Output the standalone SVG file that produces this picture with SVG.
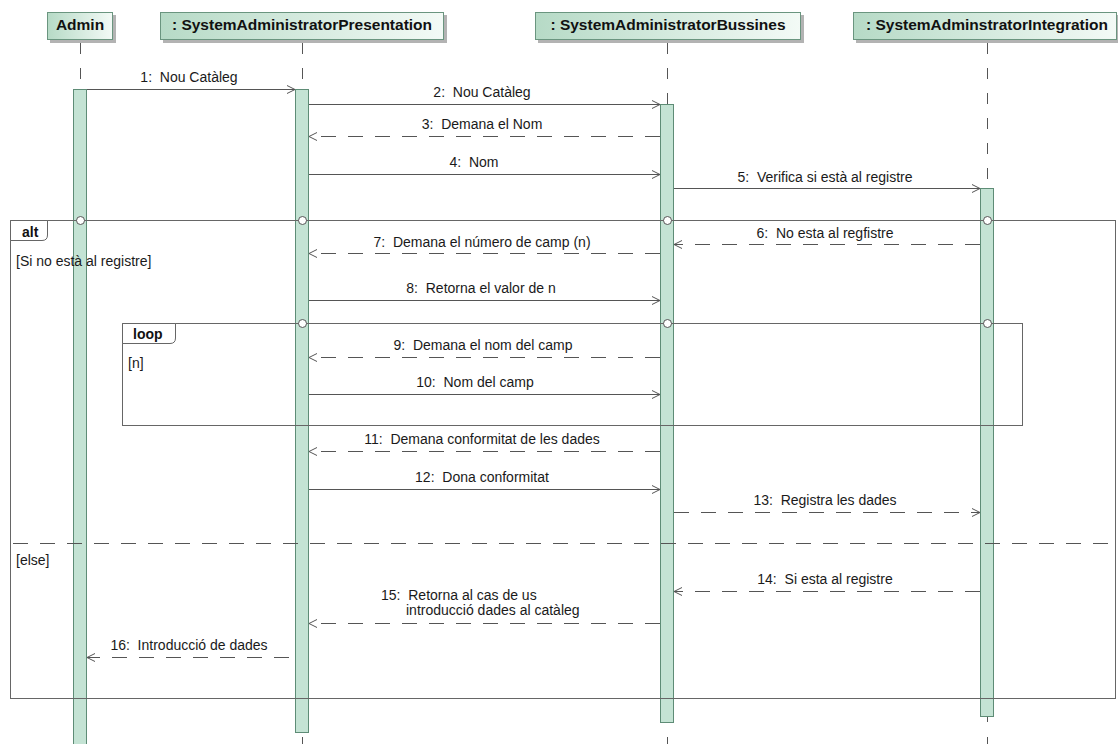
<svg xmlns="http://www.w3.org/2000/svg" width="1118" height="744" viewBox="0 0 1118 744">
  <style>
    .hdr { stroke: #6a957f; stroke-width: 1; }
    .shadow { fill: #9a9a9a; opacity: 0.75; }
    .hdr-text { font-family: "Liberation Sans", Arial, sans-serif; font-size: 15.5px; font-weight: bold; fill: #111; text-anchor: middle; }
    .life { stroke: #555; stroke-width: 1; stroke-dasharray: 11 14; fill: none; }
    .life-solid { stroke: #555; stroke-width: 1; fill: none; }
    .bar { fill: #c4e3d4; stroke: #5e8c76; stroke-width: 1; }
    .frame { fill: none; stroke: #666; stroke-width: 1; }
    .tab { fill: #fff; stroke: #666; stroke-width: 1; }
    .sep { stroke: #555; stroke-width: 1; stroke-dasharray: 15 12; fill: none; }
    .knot { fill: #fff; stroke: #555; stroke-width: 1; }
    .msg { stroke: #555; stroke-width: 1; fill: none; marker-end: url(#open); }
    .ret { stroke: #555; stroke-width: 1; fill: none; stroke-dasharray: 15 12; marker-end: url(#open); }
    .lbl { font-family: "Liberation Sans", Arial, sans-serif; font-size: 14px; fill: #1a1a1a; white-space: pre; }
    .mid { text-anchor: middle; }
    .op { font-family: "Liberation Sans", Arial, sans-serif; font-size: 14px; font-weight: bold; fill: #111; }
  </style>
  <defs>
    <linearGradient id="hdrFill" x1="0" y1="0" x2="1" y2="0">
      <stop offset="0" stop-color="#b6dac6"/>
      <stop offset="1" stop-color="#f3faf6"/>
    </linearGradient>
    <marker id="open" viewBox="-10 -6 12 12" refX="0" refY="0" markerWidth="12" markerHeight="12" markerUnits="userSpaceOnUse" orient="auto">
      <path d="M-8,-4 L0,0 L-8,4" fill="none" stroke="#555" stroke-width="1"/>
    </marker>
  </defs>

  <rect width="1118" height="744" fill="#fff"/>

  <!-- lifelines -->
  <g id="admin">
    <rect class="shadow" x="50" y="15" width="66" height="28"/>
    <rect class="hdr" x="47.5" y="12.5" width="65" height="27" fill="url(#hdrFill)"/>
    <text class="hdr-text" x="80" y="29.5">Admin</text>
    <line class="life" x1="80.5" y1="43" x2="80.5" y2="89"/>
    <rect class="bar" x="73.5" y="89.5" width="13" height="670"/>
  </g>

  <g id="presentation">
    <rect class="shadow" x="163" y="15" width="284" height="28"/>
    <rect class="hdr" x="160.5" y="12.5" width="283" height="27" fill="url(#hdrFill)"/>
    <text class="hdr-text" x="302" y="29.5">: SystemAdministratorPresentation</text>
    <line class="life" x1="302.5" y1="43" x2="302.5" y2="89"/>
    <rect class="bar" x="295.5" y="89.5" width="13" height="643"/>
    <line class="life-solid" x1="302.5" y1="737" x2="302.5" y2="744"/>
  </g>

  <g id="bussines">
    <rect class="shadow" x="538" y="15" width="266" height="28"/>
    <rect class="hdr" x="535.5" y="12.5" width="265" height="27" fill="url(#hdrFill)"/>
    <text class="hdr-text" x="668" y="29.5">: SystemAdministratorBussines</text>
    <line class="life" x1="667.5" y1="43" x2="667.5" y2="104"/>
    <rect class="bar" x="660.5" y="104.5" width="13" height="618"/>
    <line class="life-solid" x1="667.5" y1="737" x2="667.5" y2="744"/>
  </g>

  <g id="integration">
    <rect class="shadow" x="856" y="15" width="264" height="28"/>
    <rect class="hdr" x="853.5" y="12.5" width="263" height="27" fill="url(#hdrFill)"/>
    <text class="hdr-text" x="987" y="29.5">: SystemAdminstratorIntegration</text>
    <line class="life" x1="987.5" y1="43" x2="987.5" y2="188"/>
    <rect class="bar" x="980.5" y="188.5" width="13" height="528"/>
    <line class="life-solid" x1="987.5" y1="717" x2="987.5" y2="722"/>
    <line class="life-solid" x1="987.5" y1="737" x2="987.5" y2="744"/>
  </g>

  <!-- combined fragments -->
  <g id="fragments">
    <rect class="frame" x="10.5" y="220.5" width="1105" height="478"/>
    <path class="tab" d="M10.5,220.5 H47.5 V235 Q47.5,240.5 42,240.5 H10.5 Z"/>
    <text class="op" x="22" y="237">alt</text>
    <text class="lbl" x="16" y="266">[Si no està al registre]</text>
    <line class="sep" x1="13" y1="543.5" x2="1115" y2="543.5"/>
    <text class="lbl" x="16" y="565">[else]</text>

    <rect class="frame" x="122.5" y="323.5" width="900" height="102"/>
    <path class="tab" d="M122.5,323.5 H175.5 V338 Q175.5,343.5 170,343.5 H122.5 Z"/>
    <text class="op" x="133" y="339">loop</text>
    <text class="lbl" x="128" y="368">[n]</text>
  </g>

  <!-- messages -->
  <g id="connectors">
    <line class="msg" x1="87" y1="89.5" x2="295" y2="89.5"/>
    <line class="msg" x1="309" y1="104.5" x2="660" y2="104.5"/>
    <line class="ret" x1="660" y1="136.5" x2="309" y2="136.5"/>
    <line class="msg" x1="309" y1="174.5" x2="660" y2="174.5"/>
    <line class="msg" x1="674" y1="188.5" x2="980" y2="188.5"/>
    <line class="ret" x1="980" y1="244.5" x2="674" y2="244.5"/>
    <line class="ret" x1="660" y1="253.5" x2="309" y2="253.5"/>
    <line class="msg" x1="309" y1="300.5" x2="660" y2="300.5"/>
    <line class="ret" x1="660" y1="357.5" x2="309" y2="357.5"/>
    <line class="msg" x1="309" y1="394.5" x2="660" y2="394.5"/>
    <line class="ret" x1="660" y1="451.5" x2="309" y2="451.5"/>
    <line class="msg" x1="309" y1="489.5" x2="660" y2="489.5"/>
    <line class="ret" x1="674" y1="512.5" x2="980" y2="512.5"/>
    <line class="ret" x1="980" y1="591.5" x2="674" y2="591.5"/>
    <line class="ret" x1="660" y1="623.5" x2="309" y2="623.5"/>
    <line class="ret" x1="289" y1="657.5" x2="87" y2="657.5"/>
  </g>

  <!-- gates where fragments cross lifelines -->
  <g id="gates">
    <circle class="knot" cx="80.5" cy="220.5" r="4"/>
    <circle class="knot" cx="302.5" cy="220.5" r="4"/>
    <circle class="knot" cx="667.5" cy="220.5" r="4"/>
    <circle class="knot" cx="987.5" cy="220.5" r="4"/>
    <circle class="knot" cx="302.5" cy="323.5" r="4"/>
    <circle class="knot" cx="667.5" cy="323.5" r="4"/>
    <circle class="knot" cx="987.5" cy="323.5" r="4"/>
  </g>

  <!-- message labels -->
  <g id="labels">
    <text class="lbl mid" x="189" y="82">1:  Nou Catàleg</text>
    <text class="lbl mid" x="482" y="97">2:  Nou Catàleg</text>
    <text class="lbl mid" x="482" y="129">3:  Demana el Nom</text>
    <text class="lbl mid" x="474" y="167">4:  Nom</text>
    <text class="lbl mid" x="825" y="182">5:  Verifica si està al registre</text>
    <text class="lbl mid" x="825" y="238">6:  No esta al regfistre</text>
    <text class="lbl mid" x="482" y="247">7:  Demana el número de camp (n)</text>
    <text class="lbl mid" x="481" y="293">8:  Retorna el valor de n</text>
    <text class="lbl mid" x="483" y="350">9:  Demana el nom del camp</text>
    <text class="lbl mid" x="475" y="387">10:  Nom del camp</text>
    <text class="lbl mid" x="482" y="444">11:  Demana conformitat de les dades</text>
    <text class="lbl mid" x="482" y="482">12:  Dona conformitat</text>
    <text class="lbl mid" x="825" y="505">13:  Registra les dades</text>
    <text class="lbl mid" x="825" y="584">14:  Si esta al registre</text>
    <text class="lbl" x="381" y="600">15:  Retorna al cas de us</text>
    <text class="lbl" x="406" y="615">introducció dades al catàleg</text>
    <text class="lbl mid" x="189" y="650">16:  Introducció de dades</text>
  </g>
</svg>
